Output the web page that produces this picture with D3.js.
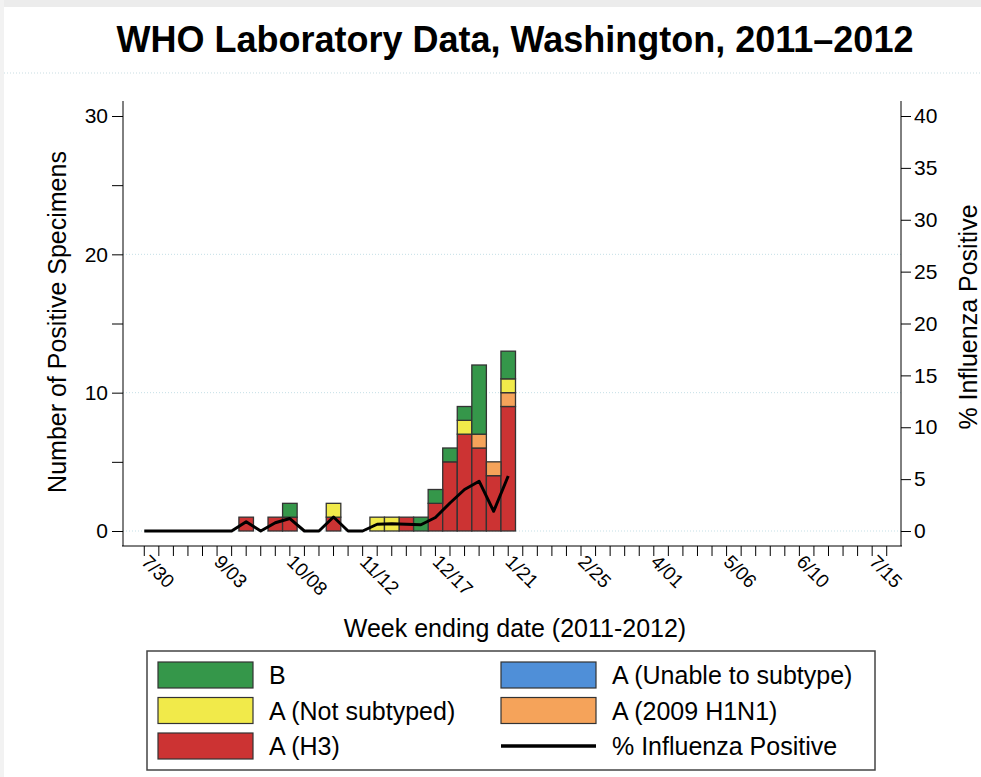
<!DOCTYPE html>
<html lang="en">
<head>
<meta charset="UTF-8">
<title>WHO Laboratory Data, Washington</title>
<script src="https://d3js.org/d3.v7.min.js"></script>
<style>
  body { margin: 0; background: #fff; }
  svg { display: block; font-family: "Liberation Sans", Arial, sans-serif; }
</style>
</head>
<body>
<svg width="981" height="777"></svg>
<script>
// 52 weekly slots on the axis, labelled every 5th week
var weekCount = 52;
var tickLabels = ["7/30", "9/03", "10/08", "11/12", "12/17", "1/21", "2/25", "4/01", "5/06", "6/10", "7/15"];
var tickEvery = 5;

// counts per week (7/30 .. 1/21), rest of season has no data yet
var h3       = [0,0,0,0,0,0,0,1,0,1,1,0,0,1,0,0,0,0,1,0,2,5,7,6,4,9];
var h1n1     = [0,0,0,0,0,0,0,0,0,0,0,0,0,0,0,0,0,0,0,0,0,0,0,1,1,1];
var unable   = [0,0,0,0,0,0,0,0,0,0,0,0,0,0,0,0,0,0,0,0,0,0,0,0,0,0];
var notSub   = [0,0,0,0,0,0,0,0,0,0,0,0,0,1,0,0,1,1,0,0,0,0,1,0,0,1];
var fluB     = [0,0,0,0,0,0,0,0,0,0,1,0,0,0,0,0,0,0,0,1,1,1,1,5,0,2];
var pctPos   = [0,0,0,0,0,0,0,0.9,0,0.8,1.2,0,0,1.35,0,0,0.65,0.7,0.65,0.6,1.3,2.7,4.0,4.8,1.9,5.3];

var yTicks = [0, 10, 20, 30];
var yMinor = [5, 15, 25];
var y2Ticks = [0, 5, 10, 15, 20, 25, 30, 35, 40];

var keys = ["h3", "h1n1", "unable", "notSub", "b"];
var colors = { h3: "#cc3333", h1n1: "#f5a35a", unable: "#4f8fd8", notSub: "#f1ea4a", b: "#35974a" };

var svg = d3.select("svg");

// light frame at top / left like the original screenshot
svg.append("rect").attr("x", 0).attr("y", 0).attr("width", 981).attr("height", 7).attr("fill", "#ececec");
svg.append("rect").attr("x", 0).attr("y", 0).attr("width", 4).attr("height", 777).attr("fill", "#f2f2f2");

svg.append("text")
   .attr("x", 515)
   .attr("y", 52)
   .attr("text-anchor", "middle")
   .attr("font-size", "36px")
   .attr("font-weight", "bold")
   .text("WHO Laboratory Data, Washington, 2011\u20132012");

svg.append("line")
   .attr("x1", 4).attr("x2", 981).attr("y1", 73).attr("y2", 73)
   .attr("stroke", "#c9dde2").attr("stroke-dasharray", "1,2");

var x = d3.scaleBand().domain(d3.range(weekCount)).range([137, 894]).padding(0);
var y = d3.scaleLinear().domain([0, 30]).range([531, 116]);
var y2 = d3.scaleLinear().domain([0, 40]).range([531, 116]);

var rows = h3.map(function(v, i) {
  return { week: i, h3: v, h1n1: h1n1[i], unable: unable[i], notSub: notSub[i], b: fluB[i], pct: pctPos[i] };
});

// gridlines
svg.append("g").selectAll("line")
   .data(yTicks.slice(0, 3))
   .enter().append("line")
   .attr("x1", 123).attr("x2", 901)
   .attr("y1", function(d) { return y(d); })
   .attr("y2", function(d) { return y(d); })
   .attr("stroke", "#c5dfe6")
   .attr("stroke-dasharray", "1,2");

// stacked bars
var series = d3.stack().keys(keys)(rows);
svg.append("g").selectAll("g")
   .data(series)
   .enter().append("g")
   .attr("fill", function(d) { return colors[d.key]; })
   .selectAll("rect")
   .data(function(d) { return d.filter(function(s) { return s[1] > s[0]; }); })
   .enter().append("rect")
   .attr("x", function(d) { return x(d.data.week); })
   .attr("y", function(d) { return y(d[1]); })
   .attr("width", x.bandwidth())
   .attr("height", function(d) { return y(d[0]) - y(d[1]); })
   .attr("stroke", "#333")
   .attr("stroke-width", 1.3);

// percent positive line
var line = d3.line()
   .x(function(d) { return x(d.week) + x.bandwidth() / 2; })
   .y(function(d) { return y2(d.pct); });

svg.append("path")
   .datum(rows)
   .attr("d", line)
   .attr("fill", "none")
   .attr("stroke", "#000")
   .attr("stroke-width", 3)
   .attr("stroke-linejoin", "round");

// left axis
var left = svg.append("g").attr("transform", "translate(123,0)");
left.call(d3.axisLeft(y).tickValues(yTicks).tickSize(11).tickPadding(4));
var leftMinor = left.append("g").call(d3.axisLeft(y).tickValues(yMinor).tickSize(11).tickFormat(""));
leftMinor.selectAll("text").remove();
left.selectAll(".domain").remove();
left.append("line").attr("x1", 0).attr("x2", 0).attr("y1", 101).attr("y2", 546).attr("stroke", "#000");

// right axis
var right = svg.append("g").attr("transform", "translate(901,0)");
right.call(d3.axisRight(y2).tickValues(y2Ticks).tickSize(10).tickPadding(3));
right.selectAll(".domain").remove();
right.append("line").attr("x1", 0).attr("x2", 0).attr("y1", 101).attr("y2", 546).attr("stroke", "#000");

svg.selectAll(".tick text").attr("font-size", "21px").attr("fill", "#000").attr("font-family", "Liberation Sans, Arial, sans-serif");
svg.selectAll(".tick line").attr("stroke", "#000");

// bottom axis
var bottom = svg.append("g").attr("transform", "translate(0,546)");
bottom.call(d3.axisBottom(x).tickSize(10).tickFormat(""));
bottom.selectAll(".domain").remove();
bottom.selectAll(".tick text").remove();
bottom.append("line").attr("x1", 122).attr("x2", 902).attr("y1", 0).attr("y2", 0).attr("stroke", "#000");
bottom.selectAll(".tick line").attr("stroke", "#000");

svg.append("g").selectAll("text")
   .data(tickLabels)
   .enter().append("text")
   .attr("transform", function(d, i) {
     return "translate(" + (x(i * tickEvery) + x.bandwidth() / 2 - 4) + ",563) rotate(45)";
   })
   .attr("font-size", "19px")
   .text(function(d) { return d; });

// axis titles
svg.append("text")
   .attr("transform", "translate(66,322) rotate(-90)")
   .attr("text-anchor", "middle")
   .attr("font-size", "25px")
   .text("Number of Positive Specimens");

svg.append("text")
   .attr("transform", "translate(977,317) rotate(-90)")
   .attr("text-anchor", "middle")
   .attr("font-size", "25px")
   .text("% Influenza Positive");

svg.append("text")
   .attr("x", 515)
   .attr("y", 637)
   .attr("text-anchor", "middle")
   .attr("font-size", "25px")
   .text("Week ending date (2011-2012)");

// legend
var legend = svg.append("g");
legend.append("rect")
   .attr("x", 147).attr("y", 651).attr("width", 728).attr("height", 119)
   .attr("fill", "#fff").attr("stroke", "#444").attr("stroke-width", 1.5);

var legendItems = [
  { key: "b", label: "B", col: 0, row: 0 },
  { key: "notSub", label: "A (Not subtyped)", col: 0, row: 1 },
  { key: "h3", label: "A (H3)", col: 0, row: 2 },
  { key: "unable", label: "A (Unable to subtype)", col: 1, row: 0 },
  { key: "h1n1", label: "A (2009 H1N1)", col: 1, row: 1 },
  { key: "line", label: "% Influenza Positive", col: 1, row: 2 }
];

var item = legend.selectAll(".item")
   .data(legendItems)
   .enter().append("g")
   .attr("class", "item")
   .attr("transform", function(d) { return "translate(" + (158 + d.col * 343) + "," + (675 + d.row * 35.5) + ")"; });

item.filter(function(d) { return d.key !== "line"; })
   .append("rect")
   .attr("x", 0).attr("y", -13).attr("width", 95).attr("height", 26)
   .attr("fill", function(d) { return colors[d.key]; })
   .attr("stroke", "#333").attr("stroke-width", 1.2);

item.filter(function(d) { return d.key === "line"; })
   .append("line")
   .attr("x1", 0).attr("x2", 95).attr("y1", 0).attr("y2", 0)
   .attr("stroke", "#000").attr("stroke-width", 3.5);

item.append("text")
   .attr("x", 111)
   .attr("y", 9)
   .attr("font-size", "25px")
   .text(function(d) { return d.label; });
</script>
</body>
</html>
